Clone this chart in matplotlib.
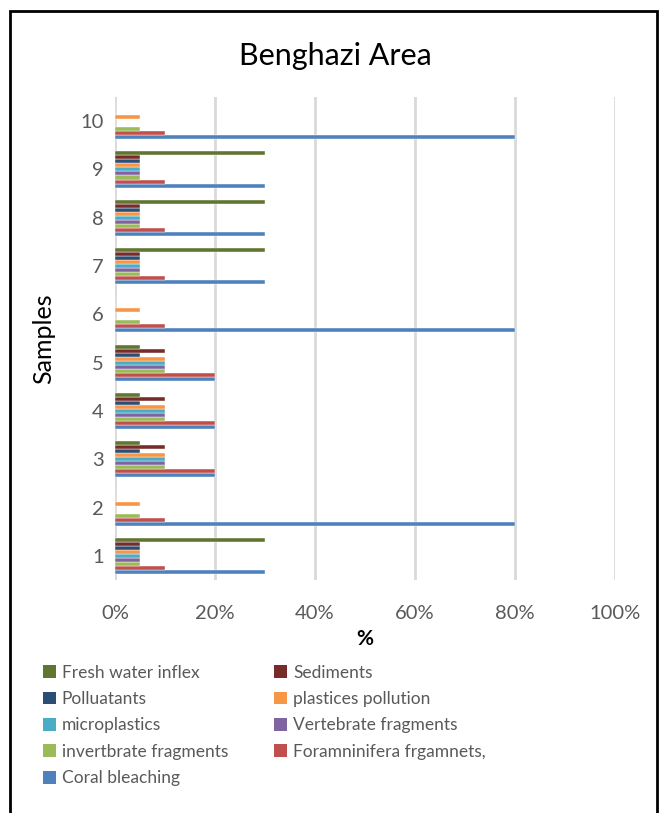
import matplotlib.pyplot as plt
import numpy as np
from matplotlib.patches import Rectangle, Patch

# Dane: udzial procentowy w probkach 1..10
probki = ['1', '2', '3', '4', '5', '6', '7', '8', '9', '10']

coral_bleaching = [30, 80, 20, 20, 20, 80, 30, 30, 30, 80]
foraminifera = [10, 10, 20, 20, 20, 10, 10, 10, 10, 10]
invertebrate = [5, 5, 10, 10, 10, 5, 5, 5, 5, 5]
vertebrate = [5, 0, 10, 10, 10, 0, 5, 5, 5, 0]
microplastics = [5, 0, 10, 10, 10, 0, 5, 5, 5, 0]
plastics = [5, 5, 10, 10, 10, 5, 5, 5, 5, 5]
pollutants = [5, 0, 5, 5, 5, 0, 5, 5, 5, 0]
sediments = [5, 0, 10, 10, 10, 0, 5, 5, 5, 0]
fresh_water = [30, 0, 5, 5, 5, 0, 30, 30, 30, 0]

serie = [
    ('Coral bleaching', coral_bleaching, '#4F81BD'),
    ('Foramninifera frgamnets,', foraminifera, '#C0504D'),
    ('invertbrate fragments', invertebrate, '#9BBB59'),
    ('Vertebrate fragments', vertebrate, '#8064A2'),
    ('microplastics', microplastics, '#4BACC6'),
    ('plastices pollution', plastics, '#F79646'),
    ('Polluatants', pollutants, '#2C4D75'),
    ('Sediments', sediments, '#772C2A'),
    ('Fresh water inflex', fresh_water, '#5F7530'),
]

plt.rcParams['font.family'] = ['Lato', 'DejaVu Sans']
szary = '#595959'

W, H = 665, 813
fig = plt.figure(figsize=(W / 100, H / 100), dpi=100)

# ramka wokol wykresu
fig.patches.append(Rectangle((10 / W, -0.05), 647 / W, 1.05 - 11 / H,
                             transform=fig.transFigure, fill=False,
                             edgecolor='black', linewidth=2))

ax = fig.add_axes([115 / W, (H - 580) / H, 500 / W, 483 / H])

y = np.arange(len(probki))
n = len(serie)
grupa = 0.75
h = grupa / n
for i, (nazwa, wart, kolor) in enumerate(serie):
    ax.barh(y - grupa / 2 + h * (i + 0.5), wart, height=h, color=kolor,
            edgecolor='white', linewidth=0.3, label=nazwa, zorder=3)

ax.set_xlim(0, 100)
ax.set_ylim(-0.5, len(probki) - 0.5)
ax.set_xticks(np.arange(0, 101, 20))
ax.set_xticklabels([f'{v}%' for v in range(0, 101, 20)])
ax.set_yticks(y)
ax.set_yticklabels(probki)
ax.tick_params(length=0, labelsize=14.5, colors=szary, pad=8)
ax.tick_params(axis='x', pad=18)
ax.grid(axis='x', color='#D9D9D9', linewidth=2, zorder=0)
for s in ax.spines.values():
    s.set_visible(False)

ax.set_xlabel('%', fontsize=15, fontweight='bold', labelpad=5)
ax.set_ylabel('Samples', fontsize=18, labelpad=18)
fig.text(335 / W, 1 - 56 / H, 'Benghazi Area', ha='center', va='center',
         fontsize=22)

# legenda wierszami: kolejnosc jak w Excelu
kolejnosc = ['Fresh water inflex', 'Polluatants', 'microplastics',
             'invertbrate fragments', 'Coral bleaching', 'Sediments',
             'plastices pollution', 'Vertebrate fragments',
             'Foramninifera frgamnets,']
kolory = {nazwa: kolor for nazwa, _, kolor in serie}
uchwyty = [Patch(facecolor=kolory[k], label=k) for k in kolejnosc]
leg = fig.legend(handles=uchwyty, ncol=2, loc='upper left',
                 bbox_to_anchor=(27 / W, 1 - 649 / H), frameon=False,
                 fontsize=12.5, handlelength=0.75, handleheight=0.75,
                 handletextpad=0.35, columnspacing=2.65, labelspacing=0.6)
for t in leg.get_texts():
    t.set_color(szary)

fig.savefig('out.png', dpi=100)
